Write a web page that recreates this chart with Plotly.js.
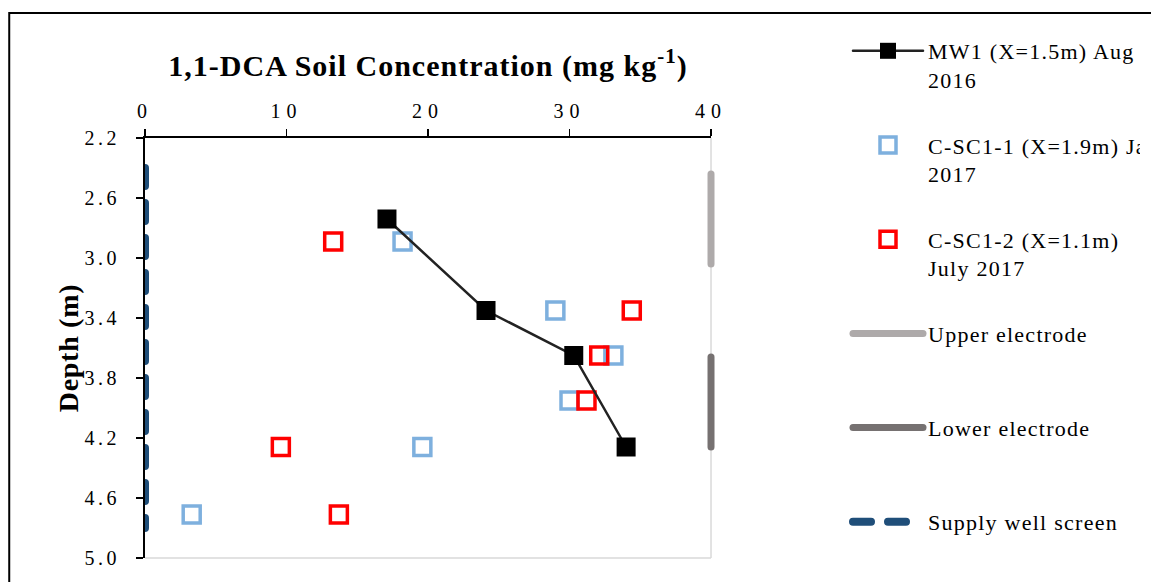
<!DOCTYPE html>
<html>
<head>
<meta charset="utf-8">
<script src="https://cdn.plot.ly/plotly-3.0.1.min.js"></script>
<style>
  html, body { margin: 0; padding: 0; background: #ffffff; }
  #chart { width: 1151px; height: 582px; }
  /* spaced-out lettering and rounded line ends */
  #chart g.xtick text { letter-spacing: 6px; }
  #chart g.ytick text { letter-spacing: 3.5px; }
  #chart .gtitle { letter-spacing: 1px; }
  #chart .ytitle { letter-spacing: 0.7px; }
  #chart .legendtext { letter-spacing: 1.25px; }
  #chart .scatterlayer path.js-line,
  #chart .legendlines path { stroke-linecap: round; }
</style>
</head>
<body>
<div id="chart"></div>
<script>
// 1,1-DCA soil concentration profiles (mg/kg) versus depth (m)
const depthMW1 = [2.74, 3.35, 3.65, 4.26];
const concMW1  = [17.1, 24.1, 30.3, 34.0];

const depthSC11 = [2.89, 3.35, 3.65, 3.95, 4.26, 4.71];
const concSC11  = [18.2, 29.0, 33.1, 30.0, 19.6, 3.3];

const depthSC12 = [2.89, 3.35, 3.65, 3.95, 4.26, 4.71];
const concSC12  = [13.3, 34.4, 32.1, 31.2, 9.6, 13.7];

// electrode and well-screen intervals (depth, m) and their horizontal positions
const upperElectrodeDepth = [2.44, 3.04];
const lowerElectrodeDepth = [3.66, 4.26];
const electrodeX = [40, 40];
const supplyScreenDepth = [2.4, 4.8];
const supplyScreenX = [0, 0];

const xMax = 40;
const xTicks = [0, 10, 20, 30, 40];
const yTicks = [2.2, 2.6, 3.0, 3.4, 3.8, 4.2, 4.6, 5.0];

const labelMW1 = 'MW1 (X=1.5m) Aug<br>2016';
const labelSC11 = 'C-SC1-1 (X=1.9m) Jan<br>2017';
const labelSC12 = 'C-SC1-2 (X=1.1m)<br>July 2017';
const labelUpper = 'Upper electrode<br>\u00a0';
const labelLower = 'Lower electrode<br>\u00a0';
const labelSupply = 'Supply well screen<br>\u00a0';

const SERIF = '"Liberation Serif", "Times New Roman", serif';

// Plot area: main axis spans 567 px; a hidden twin x axis spans a few px more
// so the electrode bars sitting on x = 40 are not cut in half by the clip box.
const MAIN_W = 567, FULL_W = 575, LEFT = 145;
const px = p => (p - LEFT) / FULL_W;

const traces = [
  {
    name: labelSupply, x: supplyScreenX, y: supplyScreenDepth,
    mode: 'lines', legendgroup: 'g6', legendrank: 6,
    line: { color: '#1f4e79', width: 8, dash: '18px,17px' }
  },
  {
    name: labelUpper, x: electrodeX, y: upperElectrodeDepth, xaxis: 'x2',
    mode: 'lines', legendgroup: 'g4', legendrank: 4,
    line: { color: '#aeaaaa', width: 7 }
  },
  {
    name: labelLower, x: electrodeX, y: lowerElectrodeDepth, xaxis: 'x2',
    mode: 'lines', legendgroup: 'g5', legendrank: 5,
    line: { color: '#767171', width: 7 }
  },
  {
    name: labelSC11, x: concSC11, y: depthSC11,
    mode: 'markers', legendgroup: 'g2', legendrank: 2,
    marker: { symbol: 'square-open', size: 17, color: '#7eb0de', line: { width: 3.5, color: '#7eb0de' } }
  },
  {
    name: labelSC12, x: concSC12, y: depthSC12,
    mode: 'markers', legendgroup: 'g3', legendrank: 3,
    marker: { symbol: 'square-open', size: 17, color: '#ff0000', line: { width: 3.5, color: '#ff0000' } }
  },
  {
    name: labelMW1, x: concMW1, y: depthMW1,
    mode: 'lines+markers', legendgroup: 'g1', legendrank: 1,
    line: { color: '#222222', width: 2.5 },
    marker: { symbol: 'square', size: 19, color: '#000000', line: { width: 0 } }
  }
];

const layout = {
  width: 1151,
  height: 582,
  margin: { l: LEFT, r: 1151 - LEFT - FULL_W, t: 138, b: 24, pad: 0 },
  paper_bgcolor: '#ffffff',
  plot_bgcolor: 'rgba(0,0,0,0)',
  font: { family: SERIF, color: '#000000', size: 20 },
  showlegend: true,
  title: {
    text: '<b>1,1-DCA Soil Concentration (mg kg<sup>-1</sup>)</b>',
    font: { family: SERIF, size: 30, color: '#000000' },
    x: px(LEFT + MAIN_W / 2), xref: 'paper', xanchor: 'center',
    y: 1 - 65 / 582, yref: 'container', yanchor: 'middle'
  },
  xaxis: {
    domain: [0, MAIN_W / FULL_W],
    side: 'top',
    range: [0, xMax],
    tickvals: xTicks,
    ticktext: xTicks.map(String),
    ticks: 'outside', ticklen: 7, tickwidth: 1.5, tickcolor: '#000000',
    ticklabelstandoff: 3,
    showline: true, linecolor: '#000000', linewidth: 2,
    showgrid: false, zeroline: false,
    tickfont: { family: SERIF, size: 20, color: '#000000' }
  },
  xaxis2: {
    domain: [0, 1],
    anchor: 'y',
    range: [0, xMax * FULL_W / MAIN_W],
    visible: false,
    showgrid: false, zeroline: false
  },
  yaxis: {
    anchor: 'x',
    range: [5.0, 2.2],
    tickvals: yTicks,
    ticktext: yTicks.map(v => v.toFixed(1)),
    ticks: 'outside', ticklen: 7, tickwidth: 1.5, tickcolor: '#000000',
    ticklabelstandoff: 12,
    showline: true, linecolor: '#000000', linewidth: 2,
    showgrid: false, zeroline: false,
    tickfont: { family: SERIF, size: 20, color: '#000000' },
    title: {
      text: '<b>Depth (m)</b>',
      font: { family: SERIF, size: 28, color: '#000000' },
      standoff: 8
    }
  },
  legend: {
    x: px(848), xanchor: 'left',
    y: (558 - 30) / 420, yanchor: 'top',
    bgcolor: 'rgba(0,0,0,0)',
    font: { family: SERIF, size: 22, color: '#000000' },
    valign: 'top',
    tracegroupgap: 34,
    itemwidth: 70,
    maxheight: 560,
    traceorder: 'grouped'
  },
  shapes: [
    // outer chart frame
    { type: 'rect', xref: 'paper', yref: 'paper',
      x0: px(9), x1: 3, y0: -1, y1: (558 - 13) / 420,
      line: { color: '#000000', width: 2 }, layer: 'below' },
    // light right and bottom plot edges
    { type: 'line', xref: 'x domain', yref: 'y domain', x0: 1, x1: 1, y0: 0, y1: 1,
      line: { color: '#d9d9d9', width: 1.5 }, layer: 'below' },
    { type: 'line', xref: 'x domain', yref: 'y domain', x0: 0, x1: 1, y0: 0, y1: 0,
      line: { color: '#d9d9d9', width: 1.5 }, layer: 'below' }
  ]
};

Plotly.newPlot('chart', traces, layout, { displayModeBar: false, staticPlot: true });
</script>
</body>
</html>
